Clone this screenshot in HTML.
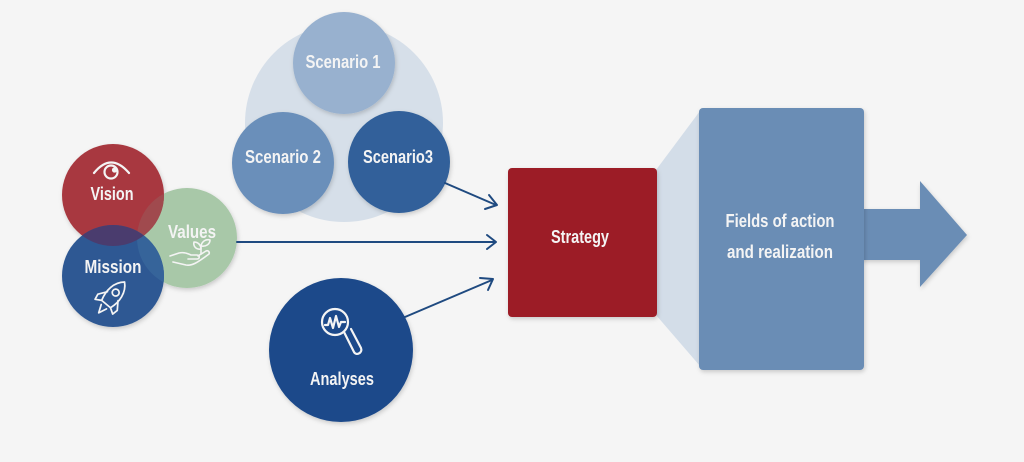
<!DOCTYPE html>
<html>
<head>
<meta charset="utf-8">
<style>
  html,body{margin:0;padding:0;background:#f5f5f5;}
  svg{display:block;}
  text{font-family:"Liberation Sans Narrow","Liberation Sans",sans-serif;font-weight:bold;fill:#f4f4f4;text-anchor:middle;font-size:18px;}
</style>
</head>
<body>
<svg width="1024" height="462" viewBox="0 0 1024 462" xmlns="http://www.w3.org/2000/svg">
  <defs>
    <filter id="sh" x="-20%" y="-20%" width="140%" height="140%">
      <feDropShadow dx="1" dy="2" stdDeviation="2" flood-color="#000" flood-opacity="0.18"/>
    </filter>
    <clipPath id="cVision"><circle cx="113" cy="195" r="51"/></clipPath>
    <clipPath id="cValues"><circle cx="187" cy="238" r="50"/></clipPath>
  </defs>
  <rect width="1024" height="462" fill="#f5f5f5"/>

  <!-- Scenario cluster -->
  <circle cx="344" cy="123" r="99" fill="#d6dfe9"/>
  <circle cx="344" cy="63" r="51" fill="#98b1cf" filter="url(#sh)"/>
  <circle cx="283" cy="163" r="51" fill="#6b8fba" filter="url(#sh)"/>
  <circle cx="399" cy="162" r="51" fill="#30619a" filter="url(#sh)"/>
  <text x="343" y="68" textLength="75" lengthAdjust="spacingAndGlyphs">Scenario 1</text>
  <text x="283" y="163" textLength="76" lengthAdjust="spacingAndGlyphs">Scenario 2</text>
  <text x="398" y="163" textLength="70" lengthAdjust="spacingAndGlyphs">Scenario3</text>

  <!-- Left cluster -->
  <g filter="url(#sh)">
    <circle cx="187" cy="238" r="50" fill="#a8c8a8"/>
    <circle cx="113" cy="195" r="51" fill="#a8393f"/>
    <circle cx="113" cy="276" r="51" fill="#2e5893"/>
  </g>
  <circle cx="187" cy="238" r="50" fill="#a04a4e" clip-path="url(#cVision)"/>
  <circle cx="113" cy="276" r="51" fill="#36649a" clip-path="url(#cValues)"/>
  <circle cx="113" cy="276" r="51" fill="#4a3c6e" clip-path="url(#cVision)"/>

  <!-- eye -->
  <g fill="none" stroke="#f4f4f4" stroke-width="2.2" stroke-linecap="round">
    <path d="M94,173 Q111,152 129,173"/>
    <circle cx="111" cy="172" r="6.5"/>
  </g>
  <circle cx="114.5" cy="170" r="2.6" fill="#f4f4f4"/>
  <text x="112" y="200" textLength="43" lengthAdjust="spacingAndGlyphs">Vision</text>

  <text x="192" y="238" textLength="48" lengthAdjust="spacingAndGlyphs">Values</text>
  <!-- hand + plant -->
  <g fill="none" stroke="#f4f4f4" stroke-width="1.6" stroke-linecap="round" stroke-linejoin="round">
    <path d="M170,256 L179,253 C183,252 187,253 191,255 L197,255 C200,255 200,259 197,259 L188,259"/>
    <path d="M173,262 L186,265 C192,266 197,263 209,254 C210,252 208,250 206,251 L198,256"/>
    <path d="M201,254 L201,246"/>
    <path d="M201,249 C196,250 193,246 194,242 C198,242 201,245 201,249 Z"/>
    <path d="M201,246 C202,241 206,239 210,240 C210,244 206,247 201,246 Z"/>
  </g>

  <text x="113" y="273" textLength="57" lengthAdjust="spacingAndGlyphs">Mission</text>
  <!-- rocket -->
  <g transform="translate(112,297) rotate(40) scale(1.15)" fill="none" stroke="#f4f4f4" stroke-width="1.5" stroke-linejoin="round" stroke-linecap="round">
    <path d="M0,-17 C7,-11 8,-1 5,8 L-5,8 C-8,-1 -7,-11 0,-17 Z"/>
    <circle cx="0" cy="-5" r="3"/>
    <path d="M-6,-1 L-11,6 L-10,11 L-5,8"/>
    <path d="M6,-1 L11,6 L10,11 L5,8"/>
    <path d="M-3,11 L0,18 L3,11"/>
  </g>

  <!-- Analyses -->
  <circle cx="341" cy="350" r="72" fill="#1c4a8a" filter="url(#sh)"/>
  <g fill="none" stroke="#f4f4f4" stroke-width="2.2" stroke-linecap="round" stroke-linejoin="round">
    <circle cx="335" cy="322" r="13"/>
    <polyline points="325,325 328,325 330,318 333,328 336,316 339,327 341,322 345,322"/>
    <path d="M344,332 L354,352 C356,356 363,353 361,348 L351,329"/>
  </g>
  <text x="342" y="385" textLength="64" lengthAdjust="spacingAndGlyphs">Analyses</text>

  <!-- connectors -->
  <g fill="none" stroke="#1f4a80" stroke-width="2" stroke-linecap="round" stroke-linejoin="round">
    <line x1="445" y1="183" x2="496" y2="205"/>
    <polyline points="489,195 497,205 485,209"/>
    <line x1="237" y1="242" x2="495" y2="242"/>
    <polyline points="487,235 496,242 487,249"/>
    <line x1="405" y1="317" x2="492" y2="280"/>
    <polyline points="480,278 493,279 488,290"/>
  </g>

  <!-- trapezoid -->
  <polygon points="656,170 700,111 700,366 656,315" fill="#d3dde8"/>

  <!-- Strategy -->
  <rect x="508" y="168" width="149" height="149" rx="4" fill="#9c1f28" filter="url(#sh)"/>
  <text x="580" y="243" textLength="58" lengthAdjust="spacingAndGlyphs">Strategy</text>

  <!-- big arrow -->
  <polygon points="860,209 920,209 920,181 967,235 920,287 920,260 860,260" fill="#6a8db5" filter="url(#sh)"/>
  <!-- Fields -->
  <rect x="699" y="108" width="165" height="262" rx="4" fill="#6a8db5" filter="url(#sh)"/>
  <text x="780" y="227" textLength="109" lengthAdjust="spacingAndGlyphs">Fields of action</text>
  <text x="780" y="258" textLength="106" lengthAdjust="spacingAndGlyphs">and realization</text>
</svg>
</body>
</html>
